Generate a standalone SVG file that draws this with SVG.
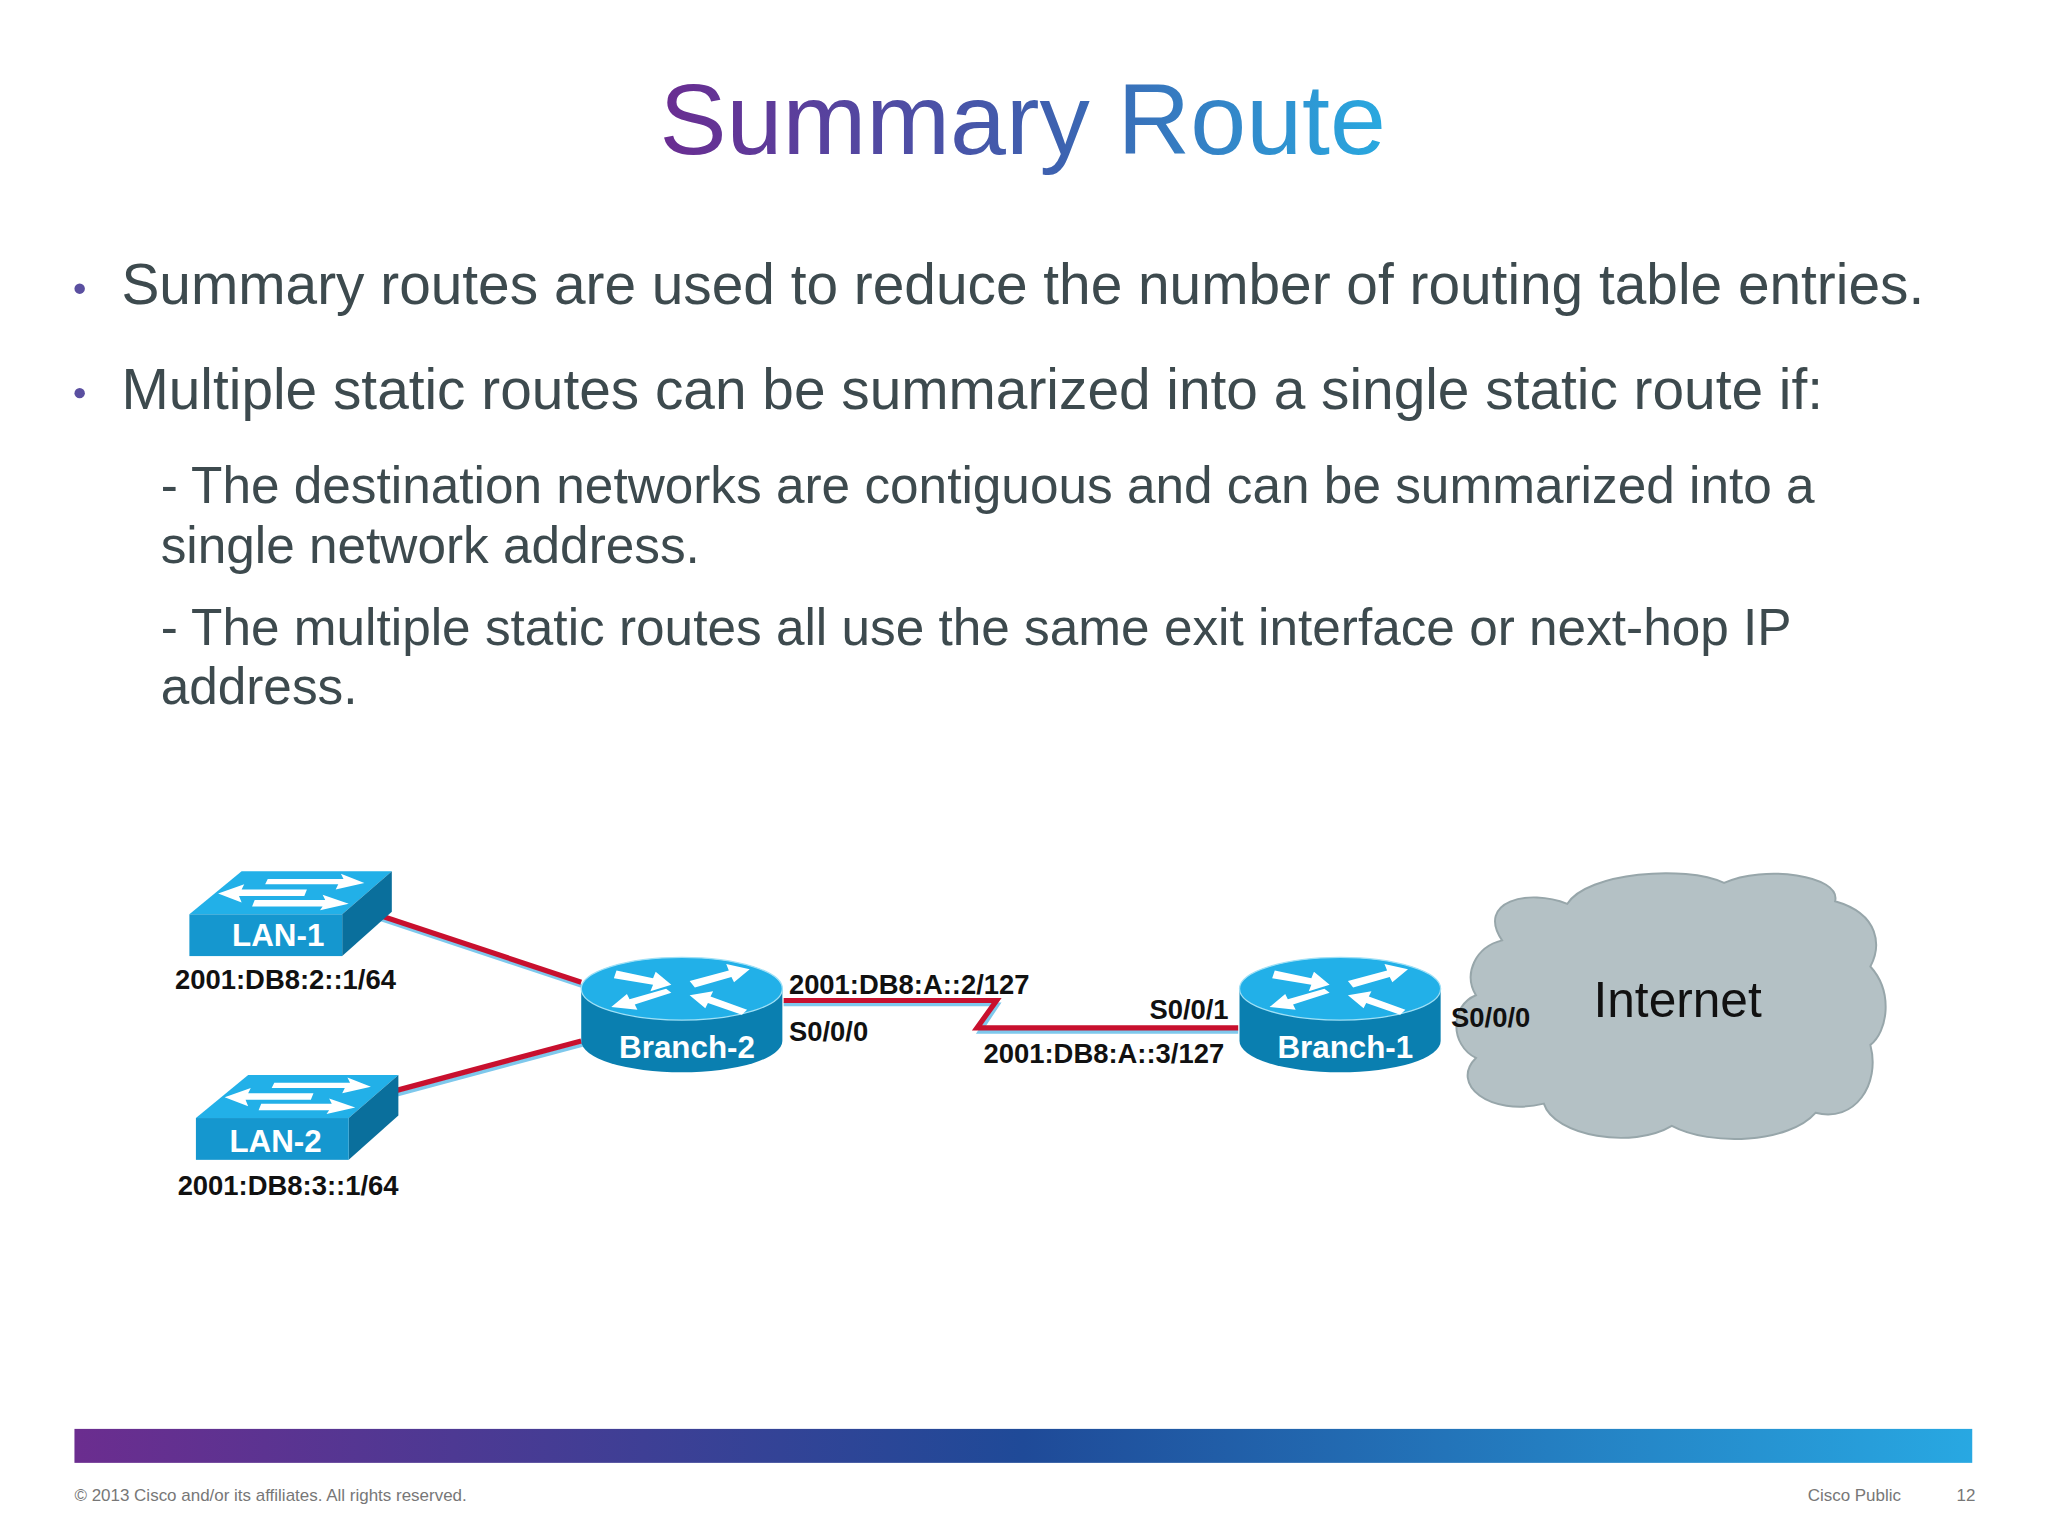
<svg xmlns="http://www.w3.org/2000/svg" width="2048" height="1536" viewBox="0 0 2048 1536">
<defs>
<linearGradient id="tg" x1="0" x2="1" y1="0" y2="0"><stop offset="0" stop-color="#6a2c91"/><stop offset="0.55" stop-color="#3d62b0"/><stop offset="1" stop-color="#29a9e0"/></linearGradient>
<linearGradient id="fg" x1="0" x2="1"><stop offset="0" stop-color="#6b2d8f"/><stop offset="0.3" stop-color="#3e3f95"/><stop offset="0.5" stop-color="#1f4a98"/><stop offset="1" stop-color="#28a8e2"/></linearGradient>
<g id="router">
<path d="M-77,0 L-77,40 A77,24 0 0 0 77,40 L77,0 Z" fill="#0a7fb0"/>
<ellipse cx="0" cy="0" rx="77" ry="24" fill="#22b0e8" stroke="#9fe0f6" stroke-width="1"/>
<g fill="#fff">
<path d="M-50,-14 L-22,-8 L-20,-13 L-8,-3 L-24,2 L-22,-3 L-52,-8 Z"/>
<path d="M6,-6 L36,-14 L34,-19 L52,-15 L40,-5 L38,-9 L10,-1 Z"/>
<path d="M-8,3 L-36,12 L-34,16 L-54,14 L-42,4 L-40,8 L-12,0 Z"/>
<path d="M50,16 L22,6 L24,2 L6,5 L18,15 L20,11 L46,20 Z"/>
</g>
</g>
<g id="switch">
<polygon points="0,33 40,0 155,0 117,33" fill="#22b0e8"/>
<polygon points="117,33 155,0 155,31 117,65" fill="#0a6f9c"/>
<rect x="0" y="33" width="117" height="32" fill="#1597cf"/>
<g fill="#fff">
<path d="M60,6 L118,6 L116,2 L134,9 L112,14 L114,10 L58,10 Z"/>
<path d="M90,14 L40,14 L42,10 L22,17 L40,24 L38,19 L88,19 Z"/>
<path d="M50,22 L104,22 L102,18 L122,25 L100,30 L102,27 L48,27 Z"/>
</g>
</g>
</defs>
<style>
.t{font-family:"Liberation Sans",Arial,sans-serif;fill:#3d4a4e}
.b{font-family:"Liberation Sans",Arial,sans-serif;font-weight:bold;fill:#111;font-size:21px}
.w{font-family:"Liberation Sans",Arial,sans-serif;font-weight:bold;fill:#fff;font-size:24px;text-anchor:middle}
.red{stroke:#c8102e;stroke-width:4;fill:none}
.blu{stroke:#7ec8ec;stroke-width:3;fill:none}
.f{font-family:"Liberation Sans",Arial,sans-serif;fill:#777;font-size:13px}
</style>
<rect width="2048" height="1536" fill="#fff"/>
<g transform="scale(1.30612)">
<text x="783" y="118" text-anchor="middle" font-family="'Liberation Sans',Arial,sans-serif" font-size="77" fill="url(#tg)">Summary Route</text>
<g class="t">
<circle cx="61" cy="221" r="4" fill="#5a4fa0"/>
<text x="93" y="233" font-size="43.5">Summary routes are used to reduce the number of routing table entries.</text>
<circle cx="61" cy="301" r="4" fill="#5a4fa0"/>
<text x="93" y="313" font-size="43.5">Multiple static routes can be summarized into a single static route if:</text>
<text x="123" y="385" font-size="39.3">- The destination networks are contiguous and can be summarized into a</text>
<text x="123" y="431" font-size="39.3">single network address.</text>
<text x="123" y="494" font-size="39.3">- The multiple static routes all use the same exit interface or next-hop IP</text>
<text x="123" y="539" font-size="39.3">address.</text>
</g>
<g id="connectors">
<path class="blu" d="M289,703 L446,755"/><path class="red" d="M288,700 L445,752"/>
<path class="blu" d="M304,838 L446,800"/><path class="red" d="M303,835 L445,797"/>
<path class="blu" d="M600,769 L764,769 L750,790 L948,790"/>
<path class="red" d="M600,766 L763,766 L748,787 L948,787"/>
</g>
<g id="cloud">
<path d="M1150,720 C1130,690 1170,680 1200,692 C1215,668 1290,662 1320,676 C1350,662 1410,670 1405,690 C1440,700 1440,725 1432,740 C1450,760 1445,790 1432,800 C1440,830 1420,860 1390,852 C1370,875 1310,878 1280,862 C1250,880 1190,870 1182,845 C1140,855 1110,830 1130,810 C1110,800 1110,770 1130,762 C1120,745 1130,725 1150,720 Z" fill="#b4c1c5" stroke="#97a6aa" stroke-width="1.5"/>
<text x="1220" y="779" font-family="'Liberation Sans',Arial,sans-serif" font-size="38" fill="#111">Internet</text>
</g>
<g id="lan1"><use href="#switch" x="145" y="667"/><text class="w" x="213" y="724">LAN-1</text><text class="b" x="134" y="757">2001:DB8:2::1/64</text></g>
<g id="lan2"><use href="#switch" x="150" y="823"/><text class="w" x="211" y="882">LAN-2</text><text class="b" x="136" y="915">2001:DB8:3::1/64</text></g>
<g id="branch2"><use href="#router" x="522" y="757"/><text class="w" x="526" y="810">Branch-2</text></g>
<g id="branch1"><use href="#router" x="1026" y="757"/><text class="w" x="1030" y="810">Branch-1</text></g>
<g id="labels">
<text class="b" x="604" y="761">2001:DB8:A::2/127</text>
<text class="b" x="604" y="797">S0/0/0</text>
<text class="b" x="880" y="780">S0/0/1</text>
<text class="b" x="753" y="814">2001:DB8:A::3/127</text>
<text class="b" x="1111" y="786">S0/0/0</text>
</g>
<rect x="57" y="1094" width="1453" height="26" fill="url(#fg)"/>
<text class="f" x="57" y="1149">© 2013 Cisco and/or its affiliates. All rights reserved.</text>
<text class="f" x="1384" y="1149">Cisco Public</text>
<text class="f" x="1498" y="1149">12</text>
</g>
</svg>
